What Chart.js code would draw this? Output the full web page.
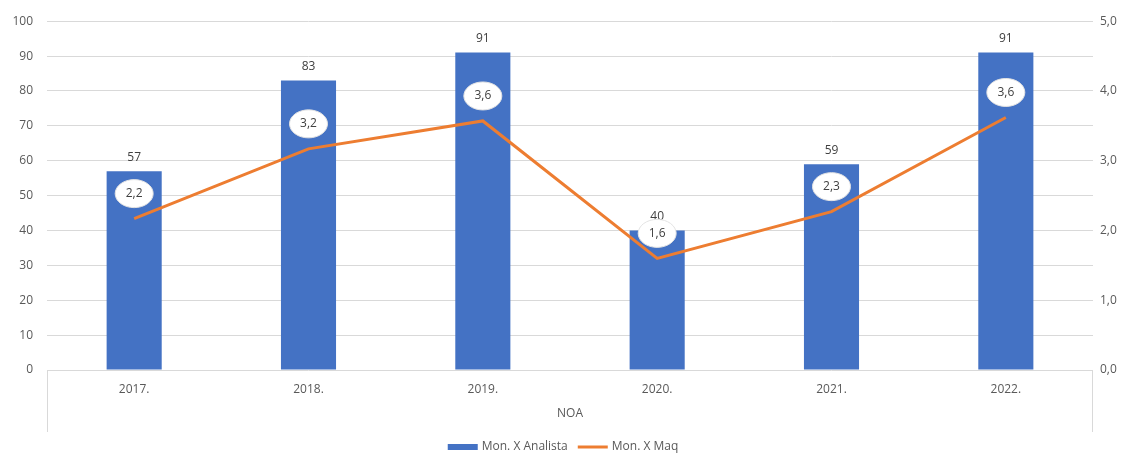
<!DOCTYPE html>
<html><head><meta charset="utf-8">
<script src="https://cdn.jsdelivr.net/npm/chart.js@4"></script>
<style>html,body{margin:0;padding:0;background:#fff}#wrap{width:1126px;height:454px;position:relative}</style>
</head><body><div id="wrap"><canvas id="c"></canvas></div>
<script>
const categories = ['2017.', '2018.', '2019.', '2020.', '2021.', '2022.'];
const analistaValues = [57, 83, 91, 40, 59, 91];
const maqValues = [2.17, 3.17, 3.57, 1.6, 2.27, 3.62];
const groupLabel = 'NOA';
const seriesNames = ['Mon. X Analista', 'Mon. X Maq'];
const leftAxisRange = [0, 100, 10];
const rightAxisRange = [0, 5, 1];

const FONT = '"Open Sans", "Liberation Sans", sans-serif';
const BLUE = '#4472C4', ORANGE = '#ED7D31', GRID = '#d9d9d9', TXT = '#595959', LBL = '#404040';
const fmt = v => v.toFixed(1).replace('.', ',');

const extras = {
  id: 'extras',
  afterDatasetsDraw(chart) {
    const ctx = chart.ctx;
    ctx.save();
    ctx.font = '12px ' + FONT;
    ctx.textAlign = 'center';
    const bars = chart.getDatasetMeta(0).data;
    ctx.fillStyle = LBL; ctx.textBaseline = 'bottom';
    bars.forEach((el, i) => ctx.fillText(String(analistaValues[i]), el.x, el.y - 8));
    const pts = chart.getDatasetMeta(1).data;
    pts.forEach((el, i) => {
      const cx = el.x, cy = el.y - 25;
      ctx.beginPath(); ctx.ellipse(cx, cy, 19, 14, 0, 0, Math.PI * 2);
      ctx.fillStyle = '#fff'; ctx.fill();
      ctx.strokeStyle = '#e3e3e3'; ctx.lineWidth = 1; ctx.stroke();
      ctx.fillStyle = LBL; ctx.textBaseline = 'middle';
      ctx.fillText(fmt(maqValues[i]), cx, cy);
    });
    ctx.restore();
  },
  afterDraw(chart) {
    const { ctx, chartArea, scales } = chart;
    const x = scales.x;
    ctx.save();
    ctx.strokeStyle = GRID; ctx.lineWidth = 1;
    ctx.beginPath();
    const l = Math.round(chartArea.left) + 0.5, r = Math.round(chartArea.right) - 0.5;
    ctx.moveTo(l, chartArea.bottom); ctx.lineTo(l, x.bottom);
    ctx.moveTo(r, chartArea.bottom); ctx.lineTo(r, x.bottom);
    ctx.stroke();
    // legend
    ctx.font = '12px ' + FONT;
    ctx.textBaseline = 'middle'; ctx.textAlign = 'left';
    const bw = 30, gap = 4, sep = 10;
    const w1 = bw + gap + ctx.measureText(seriesNames[0]).width;
    const w2 = bw + gap + ctx.measureText(seriesNames[1]).width;
    let sx = chart.width / 2 - (w1 + sep + w2) / 2;
    const ly = 447;
    ctx.fillStyle = BLUE; ctx.fillRect(sx, ly - 3, bw, 6);
    ctx.fillStyle = TXT; ctx.fillText(seriesNames[0], sx + bw + gap, ly);
    sx += w1 + sep;
    ctx.strokeStyle = ORANGE; ctx.lineWidth = 3;
    ctx.beginPath(); ctx.moveTo(sx, ly); ctx.lineTo(sx + bw, ly); ctx.stroke();
    ctx.fillStyle = TXT; ctx.fillText(seriesNames[1], sx + bw + gap, ly);
    ctx.restore();
  }
};

new Chart(document.getElementById('c'), {
  data: {
    labels: categories,
    datasets: [
      { type: 'bar', label: seriesNames[0], data: analistaValues, backgroundColor: BLUE, yAxisID: 'y', order: 2,
        barPercentage: 0.632, categoryPercentage: 0.5 },
      { type: 'line', label: seriesNames[1], data: maqValues, borderColor: ORANGE, borderWidth: 3, pointRadius: 0,
        yAxisID: 'y1', order: 1, tension: 0 }
    ]
  },
  options: {
    responsive: true, maintainAspectRatio: false, animation: false,
    layout: { padding: { top: 21, bottom: 22, left: 0, right: 0 } },
    plugins: { legend: { display: false }, tooltip: { enabled: false } },
    scales: {
      x: {
        grid: { display: false, drawTicks: false },
        border: { display: false },
        ticks: { color: TXT, font: { family: FONT, size: 12 }, padding: 12, maxRotation: 0 },
        title: { display: true, text: groupLabel, color: TXT, font: { family: FONT, size: 12 }, padding: { top: 0, bottom: 11 } },
        afterFit(s) { s.height = 62; }
      },
      y: {
        position: 'left', min: leftAxisRange[0], max: leftAxisRange[1],
        ticks: { stepSize: leftAxisRange[2], color: TXT, font: { family: FONT, size: 12 }, padding: 14 },
        grid: { color: GRID, drawTicks: false },
        border: { display: false },
        afterFit(s) { s.width = 47; }
      },
      y1: {
        position: 'right', min: rightAxisRange[0], max: rightAxisRange[1],
        ticks: { stepSize: rightAxisRange[2], color: TXT, font: { family: FONT, size: 12 }, padding: 7,
          callback: v => fmt(v) },
        grid: { display: false, drawTicks: false },
        border: { display: false },
        afterFit(s) { s.width = 33; }
      }
    }
  },
  plugins: [extras]
});
</script></body></html>
